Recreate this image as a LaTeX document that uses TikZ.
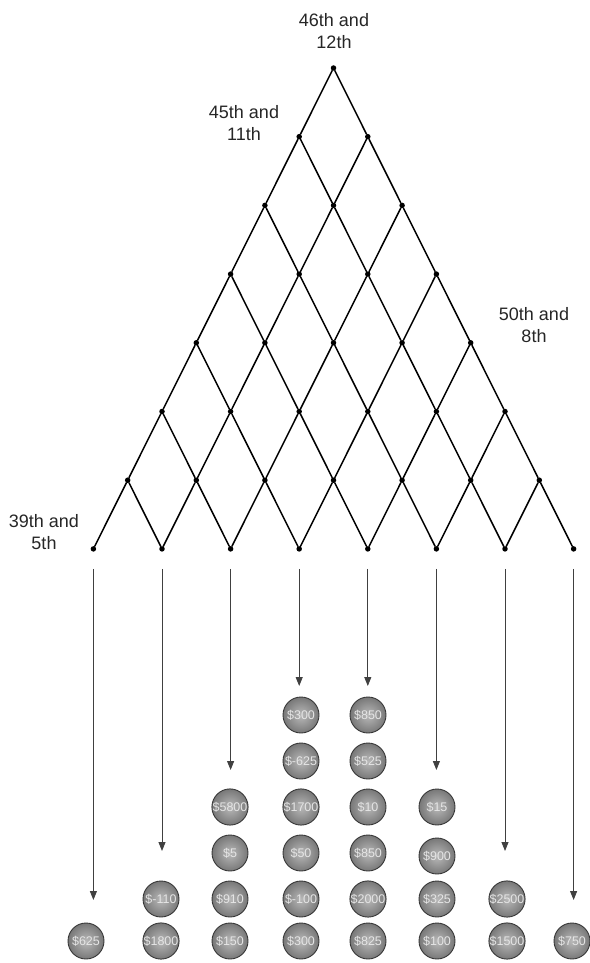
\documentclass[tikz,border=0pt]{standalone}
\usepackage{fontspec}
\setmainfont{Liberation Sans}
\usetikzlibrary{arrows.meta}
\definecolor{coinrim}{RGB}{55,55,55}
\definecolor{coinface}{RGB}{185,185,185}
\definecolor{coindark}{RGB}{120,120,120}
\tikzset{
  latnode/.style ={circle, fill=black, inner sep=0pt, minimum size=5.5pt},
  latline/.style ={line width=1.5pt, black, line cap=round},
  payarrow/.style={-{Triangle[length=9pt, width=7pt]}, line width=0.9pt,
                   black!75, shorten <=17pt},
  coin/.style    ={circle, draw=coinrim, line width=0.9pt, inner sep=0pt,
                   minimum size=36pt, inner color=coinface, outer color=coindark,
                   text=white!90!black, font=\fontsize{12.5}{13}\selectfont},
  daylabel/.style={align=center, font=\fontsize{18}{22}\selectfont, text=black!85},
}
\begin{document}
\begin{tikzpicture}[x=1pt, y=-1pt]
  \useasboundingbox (0,0) rectangle (589,963);

  % ---- the lattice: eight rows of nodes ------------------------------------
  \foreach \k in {0,...,7} {
    \foreach \j in {0,...,\k} {
      \node[latnode] (n-\k-\j) at ({333.5+34.3*(2*\j-\k)}, {68+68.7*\k}) {};
    }
  }
  \foreach \k in {0,...,6} {
    \foreach \j in {0,...,\k} {
      \pgfmathtruncatemacro{\kk}{\k+1}
      \pgfmathtruncatemacro{\jj}{\j+1}
      \draw[latline] (n-\k-\j) -- (n-\kk-\j);
      \draw[latline] (n-\k-\j) -- (n-\kk-\jj);
    }
  }

  % ---- labels at the corners -----------------------------------------------
  \node[daylabel] (lbl-top)   at (334,31)  {46th and\\12th};
  \node[daylabel] (lbl-left)  at (244,123) {45th and\\11th};
  \node[daylabel] (lbl-right) at (534,325) {50th and\\8th};
  \node[daylabel] (lbl-end)   at (44,532)  {39th and\\5th};

  % ---- arrows down to the payoffs ------------------------------------------
  \foreach \j/\ty in {0/900, 1/851, 2/770, 3/686, 4/686, 5/770, 6/851, 7/900} {
    \coordinate (tip-\j) at ({333.5+34.3*(2*\j-7)}, \ty);
    \draw[payarrow] (n-7-\j) -- (tip-\j);
  }

  % ---- payoff coins --------------------------------------------------------
  \foreach \j/\i/\x/\y/\val in {
      0/0/86/941/625,
      1/0/161/899/-110,  1/1/161/941/1800,
      2/0/230/807/5800,  2/1/230/853/5,    2/2/230/899/910,  2/3/230/941/150,
      3/0/301/715/300,   3/1/301/761/-625, 3/2/301/807/1700, 3/3/301/853/50,
      3/4/301/899/-100,  3/5/301/941/300,
      4/0/368/715/850,   4/1/368/761/525,  4/2/368/807/10,   4/3/368/853/850,
      4/4/368/899/2000,  4/5/368/941/825,
      5/0/437/807/15,    5/1/437/856/900,  5/2/437/899/325,  5/3/437/941/100,
      6/0/507/899/2500,  6/1/507/941/1500,
      7/0/572/941/750} {
    \node[coin] (c-\j-\i) at (\x,\y) {\$\val};
  }
\end{tikzpicture}
\end{document}
